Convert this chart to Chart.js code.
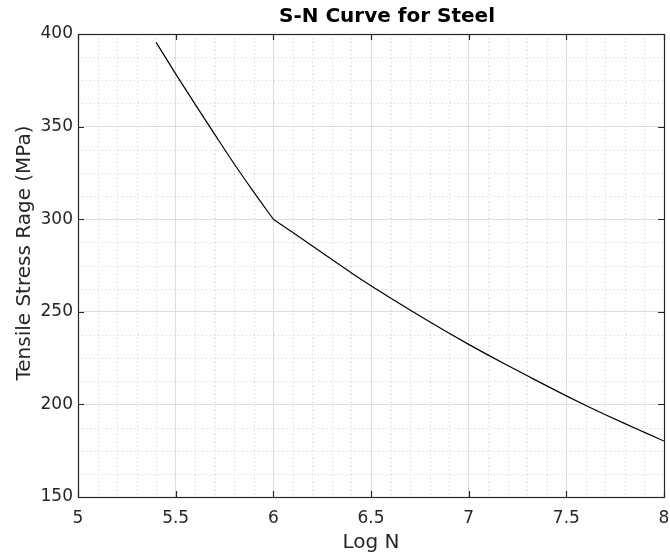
<!DOCTYPE html>
<html>
<head>
<meta charset="utf-8">
<script src="https://cdn.jsdelivr.net/npm/chart.js@4/dist/chart.umd.min.js"></script>
<style>
  html, body { margin: 0; padding: 0; background: #ffffff; }
  #wrap { width: 670px; height: 559px; }
</style>
</head>
<body>
<div id="wrap"><canvas id="sn" width="670" height="559"></canvas></div>
<script>
// S-N curve: log10 of cycles vs. tensile stress range, two slopes meeting at log N = 6
const logNHigh = [5.4, 5.5, 5.6, 5.7, 5.8, 5.9, 6.0];
const stressHigh = [395.5, 378.5, 362.0, 345.8, 329.8, 314.6, 300.0];
const logNLow = [6.0, 6.1, 6.2, 6.3, 6.4, 6.5, 6.6, 6.7, 6.8, 6.9, 7.0,
                 7.1, 7.2, 7.3, 7.4, 7.5, 7.6, 7.7, 7.8, 7.9, 8.0];
const stressLow = [300.0, 292.8, 285.5, 278.2, 271.0, 264.1, 257.5, 251.0, 244.6, 238.4, 232.4,
                   226.6, 221.0, 215.5, 210.0, 204.6, 199.4, 194.4, 189.6, 184.9, 180.2];

const xTicks = [5, 5.5, 6, 6.5, 7, 7.5, 8];
const yTicks = [150, 200, 250, 300, 350, 400];
const xMinorStep = 0.1;
const yMinorStep = 12.5;

const chartTitle = 'S-N Curve for Steel';
const xTitle = 'Log N';
const yTitle = 'Tensile Stress Rage (MPa)';

const FONT = "'DejaVu Sans', sans-serif";
const AXIS_COLOR = '#262626';

// minor dotted grid, box outline with inward ticks, title and y label
const axesDecor = {
  id: 'axesDecor',
  beforeDatasetsDraw(chart) {
    const { ctx, chartArea: a, scales: { x, y } } = chart;
    ctx.save();
    ctx.strokeStyle = '#cfcfcf';
    ctx.lineWidth = 1;
    ctx.setLineDash([1, 3]);
    for (let v = x.min; v <= x.max + 1e-9; v += xMinorStep) {
      const r = Math.round(v * 10) / 10;
      if (xTicks.some(t => Math.abs(t - r) < 1e-6)) continue;
      const px = Math.round(x.getPixelForValue(r)) + 0.5;
      ctx.beginPath(); ctx.moveTo(px, a.top); ctx.lineTo(px, a.bottom); ctx.stroke();
    }
    for (let v = y.min; v <= y.max + 1e-9; v += yMinorStep) {
      if (yTicks.some(t => Math.abs(t - v) < 1e-6)) continue;
      const py = Math.round(y.getPixelForValue(v)) + 0.5;
      ctx.beginPath(); ctx.moveTo(a.left, py); ctx.lineTo(a.right, py); ctx.stroke();
    }
    ctx.restore();
  },
  afterDatasetsDraw(chart) {
    const { ctx, chartArea: a, scales: { x, y } } = chart;
    const tick = 6;
    ctx.save();
    ctx.strokeStyle = AXIS_COLOR;
    ctx.lineWidth = 1.2;
    ctx.strokeRect(Math.round(a.left) + 0.5, Math.round(a.top) + 0.5,
                   Math.round(a.right - a.left), Math.round(a.bottom - a.top));
    ctx.beginPath();
    xTicks.forEach(v => {
      const px = Math.round(x.getPixelForValue(v)) + 0.5;
      ctx.moveTo(px, a.bottom); ctx.lineTo(px, a.bottom - tick);
      ctx.moveTo(px, a.top); ctx.lineTo(px, a.top + tick);
    });
    yTicks.forEach(v => {
      const py = Math.round(y.getPixelForValue(v)) + 0.5;
      ctx.moveTo(a.left, py); ctx.lineTo(a.left + tick, py);
      ctx.moveTo(a.right, py); ctx.lineTo(a.right - tick, py);
    });
    ctx.stroke();

    ctx.fillStyle = '#000000';
    ctx.font = 'bold 20px ' + FONT;
    ctx.textAlign = 'center';
    ctx.textBaseline = 'middle';
    ctx.fillText(chartTitle, 387, 17);

    ctx.fillStyle = AXIS_COLOR;
    ctx.font = '20px ' + FONT;
    ctx.translate(25, 253);
    ctx.rotate(-Math.PI / 2);
    ctx.fillText(yTitle, 0, 0);
    ctx.restore();
  }
};

const curveStyle = {
  showLine: true,
  borderColor: '#000000',
  borderWidth: 1.2,
  pointRadius: 0,
  cubicInterpolationMode: 'monotone',
  fill: false
};

new Chart(document.getElementById('sn'), {
  type: 'scatter',
  data: {
    datasets: [
      Object.assign({ data: logNHigh.map((v, i) => ({ x: v, y: stressHigh[i] })) }, curveStyle),
      Object.assign({ data: logNLow.map((v, i) => ({ x: v, y: stressLow[i] })) }, curveStyle)
    ]
  },
  options: {
    responsive: false,
    animation: false,
    layout: { padding: { left: 0, right: 6, top: 34, bottom: 0 } },
    plugins: {
      legend: { display: false },
      title: { display: false },
      tooltip: { enabled: false }
    },
    scales: {
      x: {
        type: 'linear',
        min: 5, max: 8,
        afterBuildTicks: s => { s.ticks = xTicks.map(v => ({ value: v })); },
        afterFit: s => { s.height = 62; s.paddingLeft = 0; s.paddingRight = 0; },
        ticks: {
          callback: v => String(v),
          font: { family: FONT, size: 17 },
          color: AXIS_COLOR,
          padding: 11,
          maxRotation: 0
        },
        grid: { color: '#dedede', lineWidth: 1, drawTicks: false },
        border: { display: false },
        title: {
          display: true,
          text: xTitle,
          font: { family: FONT, size: 20 },
          color: AXIS_COLOR,
          padding: { top: 0, bottom: 4 }
        }
      },
      y: {
        type: 'linear',
        min: 150, max: 400,
        afterBuildTicks: s => { s.ticks = yTicks.map(v => ({ value: v })); },
        afterFit: s => { s.width = 78; s.paddingTop = 0; s.paddingBottom = 0; },
        ticks: {
          callback: v => String(v),
          font: { family: FONT, size: 17 },
          color: AXIS_COLOR,
          padding: 5
        },
        grid: { color: '#dedede', lineWidth: 1, drawTicks: false },
        border: { display: false }
      }
    }
  },
  plugins: [axesDecor]
});
</script>
</body>
</html>
